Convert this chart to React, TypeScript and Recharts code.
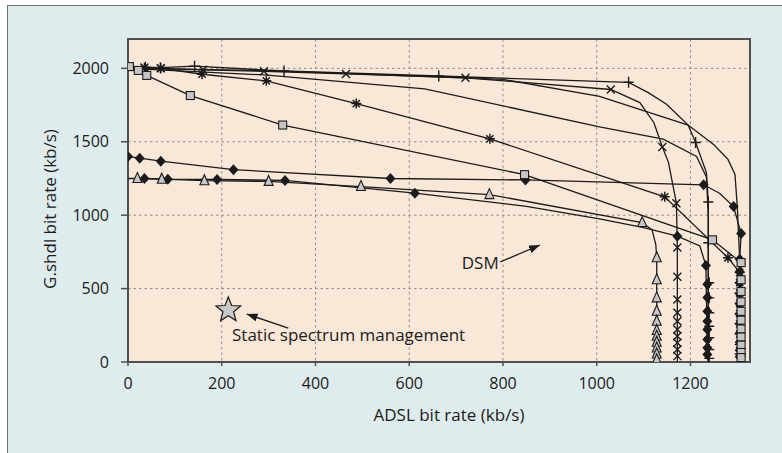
import {
	CartesianGrid,
	ReferenceArea,
	ReferenceDot,
	ReferenceLine,
	Scatter,
	ScatterChart,
	XAxis,
	YAxis,
} from "recharts"

const font = "'Open Sans', 'DejaVu Sans', sans-serif"
const ink = "#1b1b1b"
const frame = "#505050"

// every row is [ADSL kb/s, G.shdl kb/s]
const plusCurve = [
	[0, 2000], [37, 2008], [69, 2005], [142, 2015], [333, 1982], [663, 1948], [1068, 1905],
	[1110, 1835], [1149, 1756], [1195, 1614], [1211, 1495], [1234, 1290], [1238, 1090], [1238, 0],
]
const plusMarks = [
	[37, 2008], [69, 2005], [142, 2015], [333, 1982], [663, 1948], [1068, 1905], [1211, 1495],
	[1238, 1090], [1238, 812], [1240, 540], [1240, 437], [1240, 335], [1240, 244], [1240, 165],
	[1240, 85], [1240, 25],
]

const crossCurve = [
	[0, 2000], [35, 2005], [70, 2000], [160, 1990], [290, 1980], [465, 1962], [720, 1936],
	[1030, 1856], [1092, 1767], [1122, 1630], [1140, 1464], [1153, 1360], [1170, 1082],
	[1172, 780], [1172, 0],
]
const crossMarks = [
	[35, 2005], [70, 2000], [160, 1990], [290, 1980], [465, 1962], [720, 1936], [1030, 1856],
	[1140, 1464], [1170, 1082], [1172, 780], [1172, 580], [1172, 426], [1172, 335], [1172, 278],
	[1172, 222], [1172, 176], [1172, 131], [1172, 85], [1172, 40],
]

const asteriskCurve = [
	[0, 2000], [35, 2005], [70, 2000], [158, 1960], [295, 1915], [487, 1760], [772, 1520],
	[1145, 1125], [1280, 710], [1305, 610], [1305, 0],
]
const asteriskMarks = [
	[35, 2005], [70, 2000], [158, 1960], [295, 1915], [487, 1760], [772, 1520], [1145, 1125],
	[1280, 710], [1305, 610], [1305, 540], [1305, 470], [1305, 400], [1305, 330], [1305, 260],
	[1305, 190], [1305, 120], [1305, 55],
]

const squareCurve = [
	[3, 2012], [22, 1986], [40, 1952], [133, 1815], [330, 1614], [846, 1276], [1247, 832],
	[1308, 677], [1308, 30],
]
const squareMarks = [
	[3, 2012], [22, 1986], [40, 1952], [133, 1815], [330, 1614], [846, 1276], [1247, 832],
	[1308, 677], [1308, 560], [1308, 480], [1308, 410], [1308, 345], [1308, 285], [1308, 225],
	[1308, 170], [1308, 115], [1308, 65], [1308, 30],
]

const diamondHiCurve = [
	[0, 1400], [25, 1388], [70, 1368], [225, 1310], [560, 1250], [848, 1240], [1228, 1207],
	[1262, 1150], [1292, 1059], [1308, 875], [1305, 700], [1305, 0],
]
const diamondHiMarks = [
	[0, 1400], [25, 1388], [70, 1368], [225, 1310], [560, 1250], [848, 1240], [1228, 1207],
	[1292, 1059], [1308, 875], [1305, 700], [1305, 615], [1305, 540], [1305, 465], [1305, 395],
	[1305, 325], [1305, 260], [1305, 195], [1305, 135], [1305, 80], [1305, 35],
]

const diamondLoCurve = [
	[0, 1250], [35, 1250], [85, 1245], [190, 1243], [335, 1237], [612, 1150], [850, 1060],
	[1006, 975], [1100, 915], [1172, 857], [1220, 790], [1233, 657], [1236, 30],
]
const diamondLoMarks = [
	[35, 1250], [85, 1245], [190, 1243], [335, 1237], [612, 1150], [1172, 857], [1233, 657],
	[1236, 529], [1236, 440], [1236, 346], [1236, 278], [1236, 222], [1236, 153], [1236, 97],
	[1236, 51],
]

const triangleCurve = [
	[20, 1250], [72, 1245], [163, 1235], [300, 1230], [497, 1195], [771, 1140], [1097, 950],
	[1118, 900], [1126, 800], [1128, 710], [1128, 10],
]
const triangleMarks = [
	[20, 1250], [72, 1245], [163, 1235], [300, 1230], [497, 1195], [771, 1140], [1097, 950],
	[1128, 710], [1128, 560], [1128, 437], [1128, 346], [1128, 278], [1128, 215], [1128, 175],
	[1128, 135], [1128, 95], [1128, 55], [1128, 15],
]

// two curves whose markers are lost in the clusters
const upperCurve = [
	[0, 2000], [300, 1985], [800, 1925], [1006, 1810], [1195, 1614], [1250, 1480], [1280, 1380],
	[1295, 1277], [1300, 1050], [1305, 700], [1305, 0],
]
const middleCurve = [
	[0, 2000], [291, 1955], [633, 1860], [1006, 1602], [1142, 1518], [1213, 1400], [1234, 1260],
	[1238, 1000], [1238, 0],
]

const xTicks = [0, 200, 400, 600, 800, 1000, 1200]
const yTicks = [0, 500, 1000, 1500, 2000]
const xDomain = [0, 1327]
const yDomain = [0, 2200]

// annotation anchors (kb/s)
const dsmLabel = [712, 633]
const dsmArrow = [[794, 681], [879, 797]]
const staticPoint = [214, 354]
const staticLabel = [222, 145]
const staticArrow = [[342, 230], [253, 327]]

const toPts = (rows: number[][]) => rows.map(([x, y]) => ({ x, y }))

const NoDot = () => <g />

const PlusMark = ({ cx, cy }: any) => (
	<path d={`M${cx - 5} ${cy}H${cx + 5}M${cx} ${cy - 5.5}V${cy + 5.5}`} stroke={ink} strokeWidth={1.4} fill="none" />
)
const CrossMark = ({ cx, cy }: any) => (
	<path d={`M${cx - 4} ${cy - 4}L${cx + 4} ${cy + 4}M${cx - 4} ${cy + 4}L${cx + 4} ${cy - 4}`} stroke={ink} strokeWidth={1.4} fill="none" />
)
const AsteriskMark = ({ cx, cy }: any) => (
	<path
		d={`M${cx - 5} ${cy}H${cx + 5}M${cx} ${cy - 5}V${cy + 5}M${cx - 3.6} ${cy - 3.6}L${cx + 3.6} ${cy + 3.6}M${cx - 3.6} ${cy + 3.6}L${cx + 3.6} ${cy - 3.6}`}
		stroke={ink}
		strokeWidth={1.5}
		fill="none"
	/>
)
const SquareMark = ({ cx, cy }: any) => (
	<rect x={cx - 4} y={cy - 4} width={8} height={8} fill="#c6c6c6" stroke={ink} strokeWidth={1.1} />
)
const DiamondMark = ({ cx, cy }: any) => (
	<path d={`M${cx} ${cy - 5.5}L${cx + 5} ${cy}L${cx} ${cy + 5.5}L${cx - 5} ${cy}Z`} fill={ink} />
)
const TriangleMark = ({ cx, cy }: any) => (
	<path d={`M${cx} ${cy - 6}L${cx + 4.5} ${cy + 4}L${cx - 4.5} ${cy + 4}Z`} fill="#c8c8c8" stroke={ink} strokeWidth={1.1} />
)

const StarMark = ({ cx, cy }: any) => {
	const pts: string[] = []
	for (let i = 0; i < 10; i++) {
		const r = i % 2 === 0 ? 13 : 5.6
		const a = -Math.PI / 2 + (i * Math.PI) / 5
		pts.push(`${cx + r * Math.cos(a)},${cy + r * Math.sin(a)}`)
	}
	return <polygon points={pts.join(" ")} fill="#c9c9c9" stroke={ink} strokeWidth={1.2} />
}

const textAt = (label: string) => ({ cx, cy }: any) => (
	<text x={cx} y={cy} fontFamily={font} fontSize={17} fill={ink}>
		{label}
	</text>
)

const curves = [plusCurve, crossCurve, asteriskCurve, squareCurve, diamondHiCurve, diamondLoCurve, triangleCurve, upperCurve, middleCurve]
const markSets = [
	{ data: plusMarks, shape: PlusMark },
	{ data: crossMarks, shape: CrossMark },
	{ data: asteriskMarks, shape: AsteriskMark },
	{ data: diamondHiMarks, shape: DiamondMark },
	{ data: diamondLoMarks, shape: DiamondMark },
	{ data: triangleMarks, shape: TriangleMark },
	{ data: squareMarks, shape: SquareMark },
]

const axisLine = { stroke: frame, strokeWidth: 2 }
const tickStyle = { fill: ink, fontSize: 16, fontFamily: font }

export default function App() {
	return (
		<div style={{ position: "absolute", left: 0, top: 0, width: 782, height: 453, overflow: "hidden", background: "#fff" }}>
			<div
				style={{
					position: "absolute",
					left: 7,
					top: 5,
					width: 800,
					height: 470,
					background: "#dfecee",
					border: "1.5px solid #707070",
				}}
			/>
			<ScatterChart
				width={782}
				height={453}
				margin={{ top: 39, right: 32, bottom: 60, left: 0 }}
				style={{ position: "absolute", left: 0, top: 0 }}
			>
				<defs>
					<marker id="arrowHead" viewBox="0 0 11 8" refX="11" refY="4" markerWidth="11" markerHeight="8" markerUnits="userSpaceOnUse" orient="auto">
						<path d="M0,0 L11,4 L0,8 Z" fill={ink} />
					</marker>
				</defs>
				<CartesianGrid stroke="#8c8c8c" strokeDasharray="2.5 3" fill="#f9e7d8" fillOpacity={1} />
				<ReferenceArea
					x1={xDomain[0]}
					x2={xDomain[1]}
					y1={yDomain[0]}
					y2={yDomain[1]}
					fill="none"
					fillOpacity={0}
					stroke={frame}
					strokeWidth={2}
					ifOverflow="visible"
				/>
				<XAxis
					dataKey="x"
					type="number"
					domain={xDomain}
					ticks={xTicks}
					allowDataOverflow
					height={31}
					axisLine={axisLine}
					tickLine={{ stroke: frame, strokeWidth: 1.5 }}
					tickSize={4}
					tickMargin={12}
					tick={tickStyle}
				/>
				<YAxis
					dataKey="y"
					type="number"
					domain={yDomain}
					ticks={yTicks}
					allowDataOverflow
					width={128}
					axisLine={axisLine}
					tickLine={{ stroke: frame, strokeWidth: 1.5 }}
					tickSize={7}
					tickMargin={12}
					tick={tickStyle}
				/>
				<XAxis
					xAxisId="top"
					orientation="top"
					mirror
					dataKey="x"
					type="number"
					domain={xDomain}
					ticks={xTicks}
					allowDataOverflow
					axisLine={axisLine}
					tickLine={{ stroke: frame, strokeWidth: 1.5 }}
					tickSize={6}
					tick={false}
				/>
				<YAxis
					yAxisId="right"
					orientation="right"
					mirror
					dataKey="y"
					type="number"
					domain={yDomain}
					ticks={yTicks}
					allowDataOverflow
					axisLine={axisLine}
					tickLine={{ stroke: frame, strokeWidth: 1.5 }}
					tickSize={7}
					tick={false}
				/>
				{curves.map((c, i) => (
					<Scatter
						key={`curve-${i}`}
						data={toPts(c)}
						line={{ stroke: ink, strokeWidth: 1.3 }}
						lineJointType="linear"
						shape={NoDot}
						isAnimationActive={false}
					/>
				))}
				{markSets.map((m, i) => (
					<Scatter key={`marks-${i}`} data={toPts(m.data)} shape={m.shape} isAnimationActive={false} />
				))}
				<ReferenceLine
					segment={toPts(dsmArrow)}
					stroke={ink}
					strokeWidth={1.3}
					markerEnd="url(#arrowHead)"
				/>
				<ReferenceLine
					segment={toPts(staticArrow)}
					stroke={ink}
					strokeWidth={1.3}
					markerEnd="url(#arrowHead)"
				/>
				<ReferenceDot x={staticPoint[0]} y={staticPoint[1]} r={13} shape={StarMark} />
				<ReferenceDot x={dsmLabel[0]} y={dsmLabel[1]} r={1} shape={textAt("DSM")} />
				<ReferenceDot x={staticLabel[0]} y={staticLabel[1]} r={1} shape={textAt("Static spectrum management")} />
				<text x={449} y={421} textAnchor="middle" fontFamily={font} fontSize={17} fill={ink}>
					ADSL bit rate (kb/s)
				</text>
				<text
					transform="translate(50,209) rotate(-90)"
					textAnchor="middle"
					dy="0.35em"
					fontFamily={font}
					fontSize={17}
					fill={ink}
				>
					G.shdl bit rate (kb/s)
				</text>
			</ScatterChart>
		</div>
	)
}
